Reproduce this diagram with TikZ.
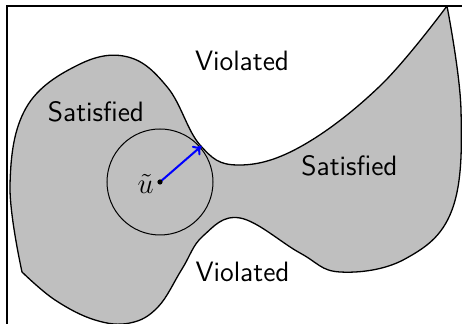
\documentclass[tikz,border=0pt]{standalone}
\usepackage{fontspec}
\usetikzlibrary{calc,arrows.meta}
\begin{document}
\begin{tikzpicture}[x=0.5pt,y=-0.5pt,
  lbl/.style={font=\fontsize{14}{17}\selectfont\sffamily, inner sep=0pt},
  region/.style={draw=black, line width=0.65pt, fill=lightgray, line join=round},
  ball/.style={draw=black, line width=0.5pt},
  radius arrow/.style={draw=blue, line width=1pt, -{To[length=4pt,width=6pt]}}]
\useasboundingbox (0,0) rectangle (462,324);
\clip (0,0) rectangle (462,324);
% frame
\draw[line width=0.55pt] (7,340) -- (7,6) -- (470,6);
% constraint region
\path[region] (22,272)
  -- plot[smooth, tension=0.65] coordinates {(22,272) (10,185) (26,108) (78,65) (128,57) (168,88) (200,145) (237,165) (300,147) (380,86) (447,6)}
  -- plot[smooth, tension=0.65] coordinates {(447,6) (461,110) (452,210) (405,259) (340,272) (300,253) (240,218) (203,236) (182,269) (158,307) (130,323) (95,320) (55,300) (22,272)}
  -- cycle;
% ball around u
\coordinate (u) at (160,182);
\draw[ball] (u) circle[radius=26.5pt];
\coordinate (t) at ($(u)+(41.5,-36)$);
\draw[radius arrow] (u) -- (t);
\fill (u) circle[radius=1.3pt];
\node[lbl, anchor=east] (ulbl) at (154,184) {$\tilde u$};
% labels
\node[lbl] (v1) at (242,61) {Violated};
\node[lbl] (s1) at (96,112) {Satisfied};
\node[lbl] (s2) at (349.5,166) {Satisfied};
\node[lbl] (v2) at (242.5,272) {Violated};
\end{tikzpicture}
\end{document}
